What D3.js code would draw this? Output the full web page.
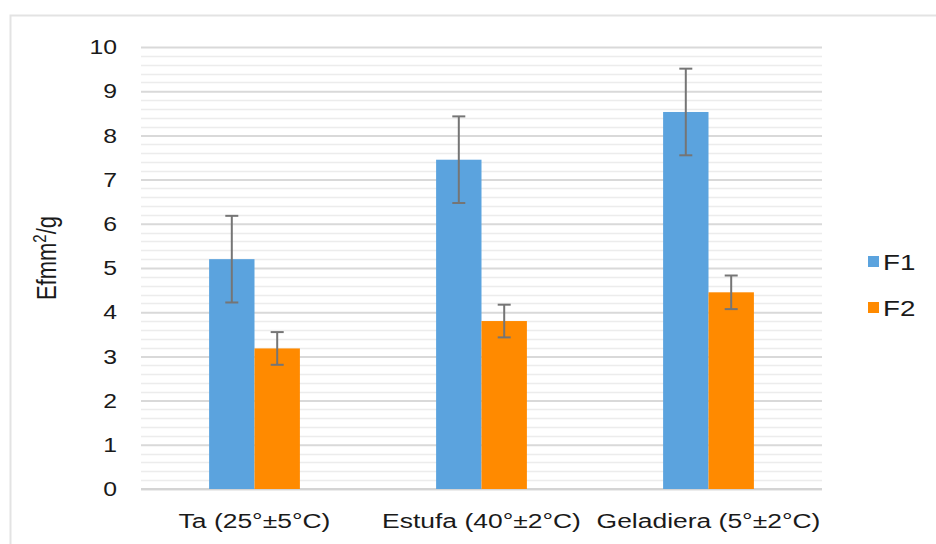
<!DOCTYPE html>
<html>
<head>
<meta charset="utf-8">
<script src="https://cdn.jsdelivr.net/npm/d3@7"></script>
<style>
  html, body { margin: 0; padding: 0; background: #fff; }
  svg text { font-family: "Liberation Sans", Arial, sans-serif; fill: #1a1a1a; }
</style>
</head>
<body>
<svg id="chart" width="936" height="544"></svg>
<script>
// Storage conditions and the two formulations
const categories = ["Ta (25°±5°C)", "Estufa (40°±2°C)", "Geladiera (5°±2°C)"];
const seriesNames = ["F1", "F2"];
const f1Values = [5.2, 7.45, 8.53];
const f2Values = [3.18, 3.8, 4.45];
const f1Errors = [0.98, 0.98, 0.98];
const f2Errors = [0.37, 0.37, 0.38];
const yTicks = [0, 1, 2, 3, 4, 5, 6, 7, 8, 9, 10];
const colors = ["#5ba3de", "#ff8a00"];

const svg = d3.select("#chart");
const margin = { left: 141, right: 114, top: 47, bottom: 55 };
const W = 936, H = 544;
const FONT = '"Liberation Sans", Arial, sans-serif';
const WIDEN = 1.26; // glyphs are drawn a little wider than tall

// re-anchor a text at its x/y and widen it horizontally about that point
function widen(sel, k) {
  sel.each(function () {
    const t = d3.select(this);
    const x = +t.attr("x") || 0, yy = +t.attr("y") || 0;
    t.attr("x", 0).attr("y", 0).attr("transform", `translate(${x},${yy}) scale(${k},1)`);
  });
}

// chart-area frame
svg.append("rect")
  .attr("x", 10.5).attr("y", 15.5)
  .attr("width", 960).attr("height", 560)
  .attr("fill", "none").attr("stroke", "#e3e3e3").attr("stroke-width", 2);

const x0 = d3.scaleBand()
  .domain(categories)
  .range([margin.left, W - margin.right])
  .paddingInner(0.6).paddingOuter(0.3);
const x1 = d3.scaleBand()
  .domain(seriesNames)
  .range([0, x0.bandwidth()]);
const y = d3.scaleLinear().domain([0, 10]).range([H - margin.bottom, margin.top]);

// minor gridlines every 0.2
const minor = d3.range(0, 10.001, 0.2).filter(v => Math.abs(v - Math.round(v)) > 1e-6);
svg.append("g").selectAll("line").data(minor).join("line")
  .attr("x1", margin.left).attr("x2", W - margin.right)
  .attr("y1", d => Math.round(y(d)) + 0.5).attr("y2", d => Math.round(y(d)) + 0.5)
  .attr("stroke", "#ececec").attr("stroke-width", 1.3);

// major gridlines + tick labels via axis
const yAxis = d3.axisLeft(y).tickValues(yTicks).tickSize(-(W - margin.left - margin.right)).tickPadding(24).tickFormat(d3.format("d"));
const gy = svg.append("g").attr("transform", `translate(${margin.left},0)`).call(yAxis);
gy.select(".domain").remove();
gy.selectAll(".tick line").attr("stroke", "#d9d9d9").attr("stroke-width", 2);
gy.selectAll(".tick text").attr("font-size", 21).attr("fill", "#1a1a1a").style("font-family", FONT)
  .call(widen, 1.18);

// baseline
svg.append("line")
  .attr("x1", margin.left).attr("x2", W - margin.right)
  .attr("y1", y(0)).attr("y2", y(0))
  .attr("stroke", "#d4d4d4").attr("stroke-width", 2);

const rows = categories.map((c, i) => ({
  cat: c,
  vals: [
    { s: "F1", v: f1Values[i], e: f1Errors[i], c: colors[0] },
    { s: "F2", v: f2Values[i], e: f2Errors[i], c: colors[1] }
  ]
}));

const groups = svg.append("g").selectAll("g").data(rows).join("g")
  .attr("transform", d => `translate(${x0(d.cat)},0)`);

groups.selectAll("rect").data(d => d.vals).join("rect")
  .attr("x", d => x1(d.s)).attr("width", x1.bandwidth())
  .attr("y", d => y(d.v)).attr("height", d => y(0) - y(d.v))
  .attr("fill", d => d.c);

// error bars
const capW = 13;
const cx = d => x1(d.s) + x1.bandwidth() / 2;
const eb = groups.selectAll("g.err").data(d => d.vals).join("g").attr("class", "err")
  .attr("stroke", "#757575").attr("stroke-width", 2);
eb.append("line")
  .attr("x1", cx).attr("x2", cx)
  .attr("y1", d => y(d.v + d.e)).attr("y2", d => y(d.v - d.e));
eb.append("line")
  .attr("x1", d => cx(d) - capW / 2).attr("x2", d => cx(d) + capW / 2)
  .attr("y1", d => y(d.v + d.e)).attr("y2", d => y(d.v + d.e));
eb.append("line")
  .attr("x1", d => cx(d) - capW / 2).attr("x2", d => cx(d) + capW / 2)
  .attr("y1", d => y(d.v - d.e)).attr("y2", d => y(d.v - d.e));

// category axis labels
const xAxis = d3.axisBottom(x0).tickSize(0).tickPadding(24);
const gx = svg.append("g").attr("transform", `translate(0,${y(0)})`).call(xAxis);
gx.select(".domain").remove();
gx.selectAll(".tick text").attr("font-size", 21).attr("fill", "#1a1a1a").style("font-family", FONT)
  .call(widen, WIDEN);

// y-axis title
const yt = svg.append("text")
  .attr("transform", `translate(56,258) scale(${WIDEN},1) rotate(-90)`)
  .attr("text-anchor", "middle").attr("font-size", 22);
yt.append("tspan").text("Efmm");
yt.append("tspan").attr("dy", -8).attr("font-size", 15).text("2");
yt.append("tspan").attr("dy", 8).text("/g");

// legend
const legend = svg.append("g").selectAll("g").data(seriesNames).join("g")
  .attr("transform", (d, i) => `translate(868,${262 + i * 46})`);
legend.append("rect").attr("x", 0).attr("y", -6).attr("width", 11).attr("height", 11)
  .attr("fill", (d, i) => colors[i]);
legend.append("text").attr("x", 15).attr("y", 0).attr("dy", "0.36em")
  .attr("font-size", 22).call(widen, WIDEN).text(d => d);
</script>
</body>
</html>
